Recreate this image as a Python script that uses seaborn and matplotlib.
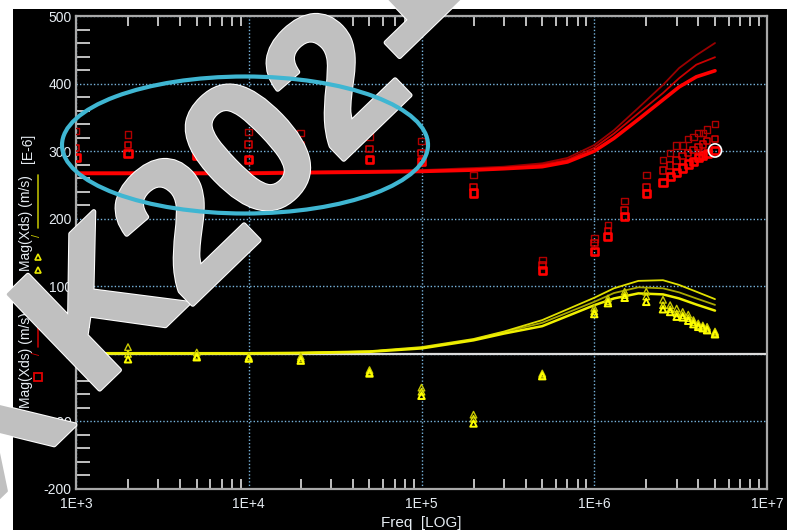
import numpy as np
import pandas as pd
import matplotlib
matplotlib.use("Agg")
import matplotlib.pyplot as plt
import matplotlib.ticker as mticker
import matplotlib.patheffects as pe
from matplotlib.patches import Ellipse, Rectangle
from matplotlib.lines import Line2D
import seaborn as sns

sns.set_style("dark")
plt.rcParams["font.family"] = ["Liberation Sans", "DejaVu Sans"]
plt.rcParams["axes.unicode_minus"] = False

# ---- measured points (frequency in Hz, magnitude in 1E-6 m/s) ----
point_freq = [1e3, 2e3, 5e3, 1e4, 2e4, 5e4, 1e5, 2e5, 5e5, 1e6, 1.2e6, 1.5e6,
              2e6, 2.5e6, 2.75e6, 3e6, 3.25e6, 3.5e6, 3.75e6, 4e6, 4.25e6, 4.5e6, 5e6]

red_pts_a = [290, 296, 294, 288, 290, 288, 284, 238, 124, 152, 173, 203,
             237, 253, 263, 269, 275, 281, 284, 291, 294, 296, 301]
red_pts_b = [305, 309, 308, 310, 308, 303, 297, 247, 131, 164, 182, 212,
             247, 271, 279, 286, 293, 297, 302, 306, 310, 315, 318]
red_pts_c = [330, 325, 326, 328, 327, 322, 315, 265, 139, 171, 191, 226,
             265, 287, 297, 308, 308, 318, 321, 327, 327, 332, 340]

yel_pts_a = [-8, -8, -5, -7, -10, -29, -62, -103, -33, 59, 75, 83,
             77, 66, 62, 55, 54, 49, 44, 40, 38, 35, 29]
yel_pts_b = [-2, 0, -3, -6, -7, -27, -56, -96, -31, 63, 78, 87,
             85, 72, 66, 60, 57, 53, 47, 42, 40, 37, 31]
yel_pts_c = [8, 10, 2, -4, -4, -24, -50, -90, -29, 68, 82, 92,
             92, 80, 72, 67, 62, 58, 50, 45, 42, 40, 33]

# ---- simulated response curves ----
curve_freq = [1e3, 2e3, 5e3, 1e4, 2e4, 5e4, 1e5, 2e5, 3e5, 5e5, 7e5, 1e6,
              1.3e6, 1.8e6, 2.5e6, 3.1e6, 3.9e6, 5e6]

red_curve_a = [267, 267, 267, 267, 268, 269, 270, 272, 274, 277, 284, 300,
               319, 347, 376, 395, 410, 419]
red_curve_b = [268, 268, 268, 268, 269, 270, 271, 273, 275, 280, 287, 305,
               326, 356, 386, 408, 428, 439]
red_curve_c = [269, 269, 269, 269, 270, 271, 272, 275, 277, 282, 290, 309,
               331, 364, 398, 423, 442, 460]

yel_curve_a = [0.5, 0.5, 0.5, 0.5, 1, 3, 8, 20, 30, 41, 56, 72,
               82, 89.5, 88, 82, 73, 64]
yel_curve_b = [1, 1, 1, 1, 1.5, 3.5, 9, 21, 32, 46, 61, 77,
               90, 98.5, 97, 91, 82, 72.5]
yel_curve_c = [1.5, 1.5, 1.5, 1.5, 2, 4, 10, 22, 33, 50, 66, 83,
               97, 108, 109, 102, 92, 81]

marked_freq = [5e6]
marked_val = [301]

x_ticks = [1e3, 1e4, 1e5, 1e6, 1e7]
y_ticks = [-200, -100, 0, 100, 200, 300, 400, 500]

watermark_chars = ["X", "K", "2", "0", "2", "1"]

W, H = 787, 530
fig = plt.figure(figsize=(W / 100, H / 100), dpi=100, facecolor="white")
fig.patches.append(Rectangle((13 / W, 0), 1, (H - 9) / H, transform=fig.transFigure,
                             facecolor="black", edgecolor="none", zorder=-10))

ax = fig.add_axes([76 / W, (H - 489) / H, (767 - 76) / W, (489 - 16) / H])
ax.set_facecolor("black")
ax.set_xscale("log")
ax.set_xlim(1e3, 1e7)
ax.set_ylim(-200, 500)

# grid and zero line
ax.set_axisbelow(True)
ax.grid(True, which="major", color="#78b4dc", linestyle=(0, (1, 1.5)), linewidth=1)
ax.axhline(0, color="#dcdcdc", linewidth=1.6, zorder=1.5)

# curves
curve_df = pd.DataFrame({"freq": curve_freq,
                         "ra": red_curve_a, "rb": red_curve_b, "rc": red_curve_c,
                         "ya": yel_curve_a, "yb": yel_curve_b, "yc": yel_curve_c})
curve_styles = [("rc", "#9a0000", 1.3), ("rb", "#c80000", 1.3), ("ra", "#ff0000", 2.6),
                ("yb", "#a8a800", 1.3), ("yc", "#e0e000", 1.3), ("ya", "#f0f000", 1.8)]
for col, color, lw in curve_styles:
    sns.lineplot(data=curve_df, x="freq", y=col, color=color, linewidth=lw,
                 estimator=None, sort=False, ax=ax, zorder=2)

# measured points
pts_df = pd.DataFrame({"freq": point_freq,
                       "ra": red_pts_a, "rb": red_pts_b, "rc": red_pts_c,
                       "ya": yel_pts_a, "yb": yel_pts_b, "yc": yel_pts_c})
point_styles = [("rc", "s", "#b00000", 1.0, 22), ("rb", "s", "#d80000", 1.1, 22),
                ("ra", "s", "#ff0000", 1.9, 26),
                ("yc", "^", "#c8c800", 1.0, 22), ("yb", "^", "#e0e000", 1.0, 22),
                ("ya", "^", "#ffff00", 1.4, 22)]
for col, mk, color, lw, size in point_styles:
    sns.scatterplot(data=pts_df, x="freq", y=col, marker=mk, s=size,
                    facecolor="none", edgecolor=color, linewidth=lw, ax=ax, zorder=3)

sns.scatterplot(x=marked_freq, y=marked_val, marker="o", s=90, facecolor="none",
                edgecolor="white", linewidth=1.2, ax=ax, zorder=4)

# axes styling
for side in ["left", "right", "top", "bottom"]:
    ax.spines[side].set_visible(True)
    ax.spines[side].set_color("#a8a8a8")
    ax.spines[side].set_linewidth(1.6)

ax.xaxis.set_major_locator(mticker.FixedLocator(x_ticks))
ax.xaxis.set_minor_locator(mticker.LogLocator(base=10, subs=np.arange(2, 10)))
ax.xaxis.set_major_formatter(mticker.FuncFormatter(
    lambda v, p: f"1E+{int(round(np.log10(v)))}"))
ax.xaxis.set_minor_formatter(mticker.NullFormatter())
ax.yaxis.set_major_locator(mticker.FixedLocator(y_ticks))
ax.yaxis.set_minor_locator(mticker.MultipleLocator(20))

ax.tick_params(axis="x", which="minor", direction="in", length=7.5, width=1.3,
               color="#d0d0d0", top=True, bottom=True)
ax.tick_params(axis="x", which="major", length=0, pad=6, labelsize=10,
               labelcolor="#e6ecf2")
ax.tick_params(axis="y", which="minor", direction="in", length=10, width=1.3,
               color="#d0d0d0", left=True, right=False)
ax.tick_params(axis="y", which="major", length=0, pad=3, labelsize=10,
               labelcolor="#e6ecf2")

ax.set_xlabel("Freq  [LOG]", color="#e6ecf2", fontsize=11, labelpad=3)
ax.set_ylabel("")

# axis title column with series keys
txt_kw = dict(rotation=90, ha="center", va="center", color="#e6ecf2", fontsize=10)
fig.text(26 / W, (H - 360) / H, "Mag(Xds) (m/s)", **txt_kw)
fig.text(26 / W, (H - 223) / H, "Mag(Xds) (m/s)", **txt_kw)
fig.text(28 / W, (H - 148) / H, "[E-6]", **txt_kw)

fig.lines.append(Line2D([38 / W], [(H - 377) / H], marker="s", markersize=6,
                        markerfacecolor="none", markeredgecolor="#e00000",
                        markeredgewidth=1.3, linestyle="none", transform=fig.transFigure))
fig.text(37 / W, (H - 353) / H, "/", rotation=90, ha="center", va="center",
         color="#d00000", fontsize=8)
fig.lines.append(Line2D([38 / W, 38 / W], [(H - 347) / H, (H - 317) / H],
                        color="#c00000", linewidth=1.2, transform=fig.transFigure))
for yy in (257, 270):
    fig.lines.append(Line2D([38 / W], [(H - yy) / H], marker="^", markersize=5,
                            markerfacecolor="none", markeredgecolor="#e8e800",
                            markeredgewidth=1.2, linestyle="none",
                            transform=fig.transFigure))
fig.text(37 / W, (H - 235) / H, "/", rotation=90, ha="center", va="center",
         color="#c8c800", fontsize=8)
fig.lines.append(Line2D([38 / W, 38 / W], [(H - 228) / H, (H - 175) / H],
                        color="#b8b800", linewidth=1.2, transform=fig.transFigure))

# watermark: glyphs laid along a 44 degree baseline
wm_centers = [(-18, 418), (92, 300), (178, 222), (246, 145), (329, 77), (381, -22)]
wm_effects = [pe.Stroke(linewidth=3.5, foreground="white"),
              pe.Stroke(linewidth=2, foreground="#c0c0c0"), pe.Normal()]
for ch, (cx, cy) in zip(watermark_chars, wm_centers):
    t = fig.text(cx / W, (H - cy) / H, ch, rotation=44, rotation_mode="anchor",
                 ha="center", va="center_baseline", fontsize=138, fontweight="bold",
                 color="#c0c0c0", zorder=20)
    t.set_path_effects(wm_effects)

fig.patches.append(Ellipse((245 / W, (H - 145) / H), 366 / W, 137 / H,
                           transform=fig.transFigure, fill=False,
                           edgecolor="#3fb6d2", linewidth=3, zorder=30))

fig.savefig("out.png", dpi=100, facecolor="white")
